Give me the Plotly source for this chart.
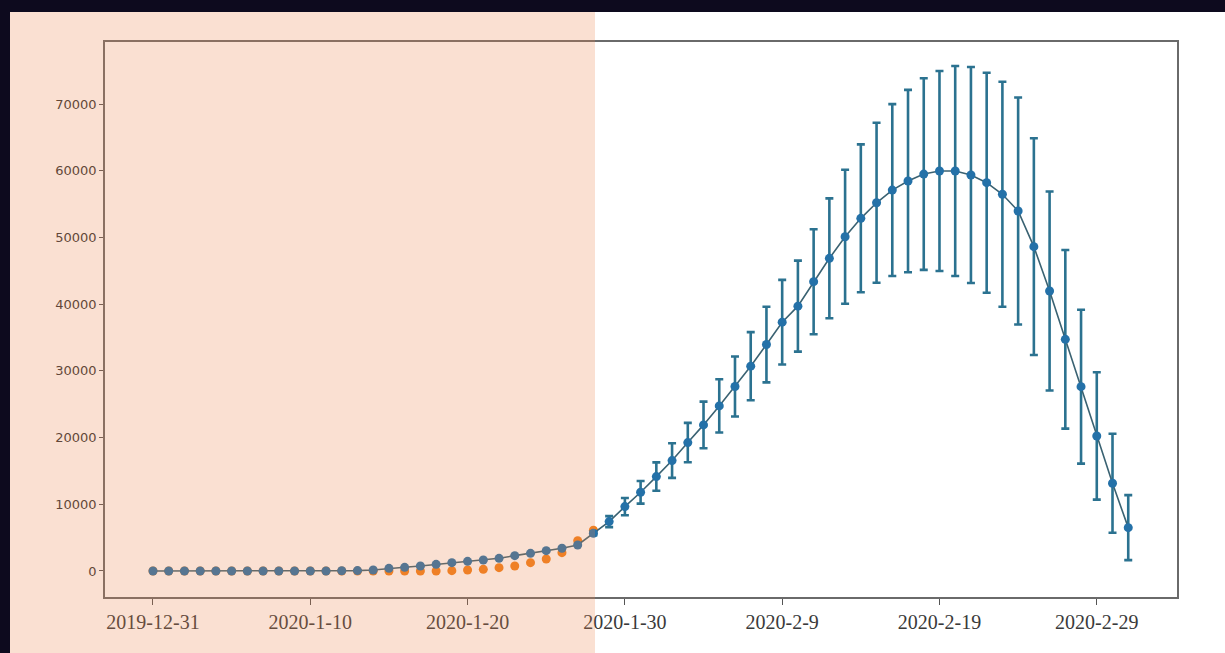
import pandas as pd
import plotly.graph_objects as go

start_date = "2019-12-31"
n_days = 63
dates = pd.date_range(start_date, periods=n_days, freq="D")

blue_values = [0, 0, 0, 0, 0, 0, 0, 0, 0, 0, 0, 0, 30, 60,
               150, 400, 550, 750, 1000, 1250, 1450, 1650, 1900, 2300, 2650, 3050,
               3400, 3900, 5650, 7400, 9650, 11800, 14150, 16550, 19250, 21900,
               24750, 27650, 30700, 33950, 37300, 39700, 43370, 46870, 50100,
               52870, 55200, 57100, 58460, 59500, 59960, 59960, 59360, 58210,
               56470, 53970, 48620, 41970, 34730, 27630, 20240, 13150, 6500]

blue_errors = [0] * 28 + [300, 825, 1300, 1700, 2130, 2590, 2950, 3490, 4000,
               4500, 5100, 5670, 6340, 6820, 7870, 8990, 10040, 11090, 11990,
               12890, 13670, 14360, 14990, 15740, 16190, 16490, 16860, 17010,
               16250, 14920, 13390, 11540, 9550, 7420, 4870]

orange_values = [0, 0, 0, 0, 0, 0, 0, 0, 0, 0, 0, 0, 0, 0, 0, 0, 0, 0, 0,
                 50, 150, 250, 500, 750, 1250, 1800, 2750, 4550, 6100]

x_tick_dates = ["2019-12-31", "2020-01-10", "2020-01-20", "2020-01-30",
                "2020-02-09", "2020-02-19", "2020-02-29"]
x_tick_labels = ["2019-12-31", "2020-1-10", "2020-1-20", "2020-1-30",
                 "2020-2-9", "2020-2-19", "2020-2-29"]
y_tick_values = [0, 10000, 20000, 30000, 40000, 50000, 60000, 70000]
y_tick_labels = ["0", "10000", "20000", "30000", "40000", "50000", "60000", "70000"]

fig = go.Figure()

fig.add_trace(go.Scatter(
    x=dates[:len(orange_values)], y=orange_values, mode="markers",
    marker=dict(color="#f07f1a", size=9), showlegend=False))

fig.add_trace(go.Scatter(
    x=dates, y=blue_values, mode="lines+markers",
    line=dict(color="#3a6272", width=1.6),
    marker=dict(color="#2471a8", size=9),
    error_y=dict(type="data", array=blue_errors, visible=True,
                 color="#2b7290", thickness=2.6, width=4),
    showlegend=False))

x0 = pd.Timestamp(start_date) - pd.Timedelta(days=3.05)
x1 = pd.Timestamp(start_date) + pd.Timedelta(days=65.1)

W, H = 1225, 653
L, R, T, B = 105, 48, 42, 56
pw, ph = W - L - R, H - T - B

def px_x(p):
    return (p - L) / pw

def px_y(p):
    return (H - B - p) / ph

shapes = [
    dict(type="rect", xref="paper", yref="paper", layer="above",
         x0=px_x(10), x1=px_x(595), y0=px_y(H), y1=px_y(12),
         fillcolor="rgba(235,130,75,0.25)", line=dict(width=0)),
    dict(type="rect", xref="paper", yref="paper", layer="above",
         x0=px_x(0), x1=px_x(W), y0=px_y(12), y1=px_y(0),
         fillcolor="#0d0a1e", line=dict(width=0)),
    dict(type="rect", xref="paper", yref="paper", layer="above",
         x0=px_x(0), x1=px_x(10), y0=px_y(H), y1=px_y(0),
         fillcolor="#0d0a1e", line=dict(width=0)),
]

fig.update_layout(
    width=W, height=H,
    margin=dict(l=L, r=R, t=T, b=B),
    paper_bgcolor="white", plot_bgcolor="white",
    shapes=shapes,
    xaxis=dict(range=[x0, x1], tickvals=x_tick_dates, ticktext=x_tick_labels,
               showgrid=False, zeroline=False, showline=True, mirror=True,
               linecolor="#6a6a6a", linewidth=1.5, ticks="outside", ticklen=6,
               tickcolor="#555", tickfont=dict(family="Liberation Serif", size=20, color="#3a3a3a")),
    yaxis=dict(range=[-3900, 79300], tickvals=y_tick_values, ticktext=y_tick_labels,
               showgrid=False, zeroline=False, showline=True, mirror=True,
               linecolor="#6a6a6a", linewidth=1.5, ticks="outside", ticklen=4,
               tickcolor="#555", tickfont=dict(family="DejaVu Sans", size=13, color="#333")),
)

fig.write_html("out.html", config={"displayModeBar": False},
               post_script="document.body.style.margin='0';document.body.style.overflow='hidden';")
